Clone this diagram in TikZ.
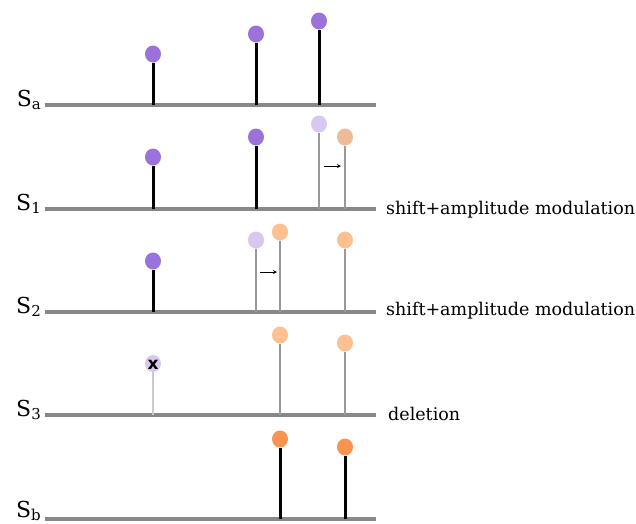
\documentclass[tikz,border=0pt]{standalone}
\usepackage{fontspec}
\setmainfont{DejaVu Serif}
\newfontfamily\xfont{DejaVu Sans}
\definecolor{axisgray}{HTML}{888888}
\definecolor{stemgray}{HTML}{999999}
\definecolor{stemlight}{HTML}{CCCCCC}
\definecolor{purp}{HTML}{9B72D9}
\definecolor{lpurp}{HTML}{D8C8F0}
\definecolor{peachA}{HTML}{EEBB95}
\definecolor{peachB}{HTML}{FDC091}
\definecolor{orng}{HTML}{FA9350}
\tikzset{
  axisline/.style={draw=axisgray,line width=4pt},
  dot/.style={ellipse,inner sep=0pt,minimum width=16pt,minimum height=17pt,draw=none,fill=#1},
  blackstem/.style={draw=black,line width=3pt},
  graystem/.style={draw=stemgray,line width=2pt},
  lightstem/.style={draw=stemlight,line width=2pt},
  slabel/.style={anchor=base east,inner sep=0pt,font=\fontsize{22}{24}\selectfont},
  oplabel/.style={anchor=base west,inner sep=0pt,font=\fontsize{17.5}{19}\selectfont},
  shiftarrow/.style={-stealth,line width=0.8pt},
}
\usepackage{tikz}
\usetikzlibrary{shapes.geometric}
\newcommand{\sub}[1]{\raisebox{-2.5pt}{\fontsize{15}{16}\selectfont #1}}
\begin{document}
\begin{tikzpicture}[x=1pt,y=-1pt]
\useasboundingbox (0,0) rectangle (636,523);
% axes
\foreach \n/\y in {a/105,1/209,2/312,3/415,b/519}{
  \coordinate (L\n) at (45,\y);
  \coordinate (R\n) at (376,\y);
  \draw[axisline] (L\n) -- (R\n);
}
\node[slabel] (lab-a) at (41,106.5) {S\sub{a}};
\node[slabel] (lab-1) at (41,210.5) {S\sub{1}};
\node[slabel] (lab-2) at (41,313.5) {S\sub{2}};
\node[slabel] (lab-3) at (41,416.5) {S\sub{3}};
\node[slabel] (lab-b) at (41,517.5) {S\sub{b}};
\node[oplabel] (op1) at (386,214) {shift+amplitude modulation};
\node[oplabel] (op2) at (386,315) {shift+amplitude modulation};
\node[oplabel] (op3) at (388,420) {deletion};

% S_a
\coordinate (a1b) at (153,105); \node[dot=purp] (a1) at (153,54) {};
\coordinate (a2b) at (256,105); \node[dot=purp] (a2) at (256,34) {};
\coordinate (a3b) at (319,105); \node[dot=purp] (a3) at (319,21) {};
\draw[blackstem] (a1b) -- (a1.south);
\draw[blackstem] (a2b) -- (a2.south);
\draw[blackstem] (a3b) -- (a3.south);

% S_1
\coordinate (b1b) at (153,209); \node[dot=purp] (b1) at (153,157) {};
\coordinate (b2b) at (256,209); \node[dot=purp] (b2) at (256,137) {};
\coordinate (b3b) at (319,209); \node[dot=lpurp] (b3) at (319,124) {};
\coordinate (b4b) at (345,209); \node[dot=peachA] (b4) at (345,137) {};
\draw[blackstem] (b1b) -- (b1.south);
\draw[blackstem] (b2b) -- (b2.south);
\draw[graystem] (b3b) -- (b3.south);
\draw[graystem] (b4b) -- (b4.south);
\coordinate (s1a) at (324,166); \coordinate (s1b) at (341,166);
\draw[shiftarrow] (s1a) -- (s1b);

% S_2
\coordinate (c1b) at (153,312); \node[dot=purp] (c1) at (153,261) {};
\coordinate (c2b) at (256,312); \node[dot=lpurp] (c2) at (256,240) {};
\coordinate (c3b) at (280,312); \node[dot=peachB] (c3) at (280,232) {};
\coordinate (c4b) at (345,312); \node[dot=peachB] (c4) at (345,240) {};
\draw[blackstem] (c1b) -- (c1.south);
\draw[graystem] (c2b) -- (c2.south);
\draw[graystem] (c3b) -- (c3.south);
\draw[graystem] (c4b) -- (c4.south);
\coordinate (s2a) at (260,272); \coordinate (s2b) at (277,272);
\draw[shiftarrow] (s2a) -- (s2b);

% S_3
\coordinate (d1b) at (153,415); \node[dot=lpurp] (d1) at (153,363.5) {};
\node[font=\xfont\bfseries\fontsize{17}{17}\selectfont,inner sep=0pt] (d1x) at (153,364.5) {x};
\coordinate (d3b) at (280,415); \node[dot=peachB] (d3) at (280,335) {};
\coordinate (d4b) at (345,415); \node[dot=peachB] (d4) at (345,343) {};
\draw[lightstem] (d1b) -- (d1.south);
\draw[graystem] (d3b) -- (d3.south);
\draw[graystem] (d4b) -- (d4.south);

% S_b
\coordinate (e3b) at (280,519); \node[dot=orng] (e3) at (280,439) {};
\coordinate (e4b) at (345,519); \node[dot=orng] (e4) at (345,447) {};
\draw[blackstem] (e3b) -- (e3.south);
\draw[blackstem] (e4b) -- (e4.south);
\end{tikzpicture}
\end{document}
